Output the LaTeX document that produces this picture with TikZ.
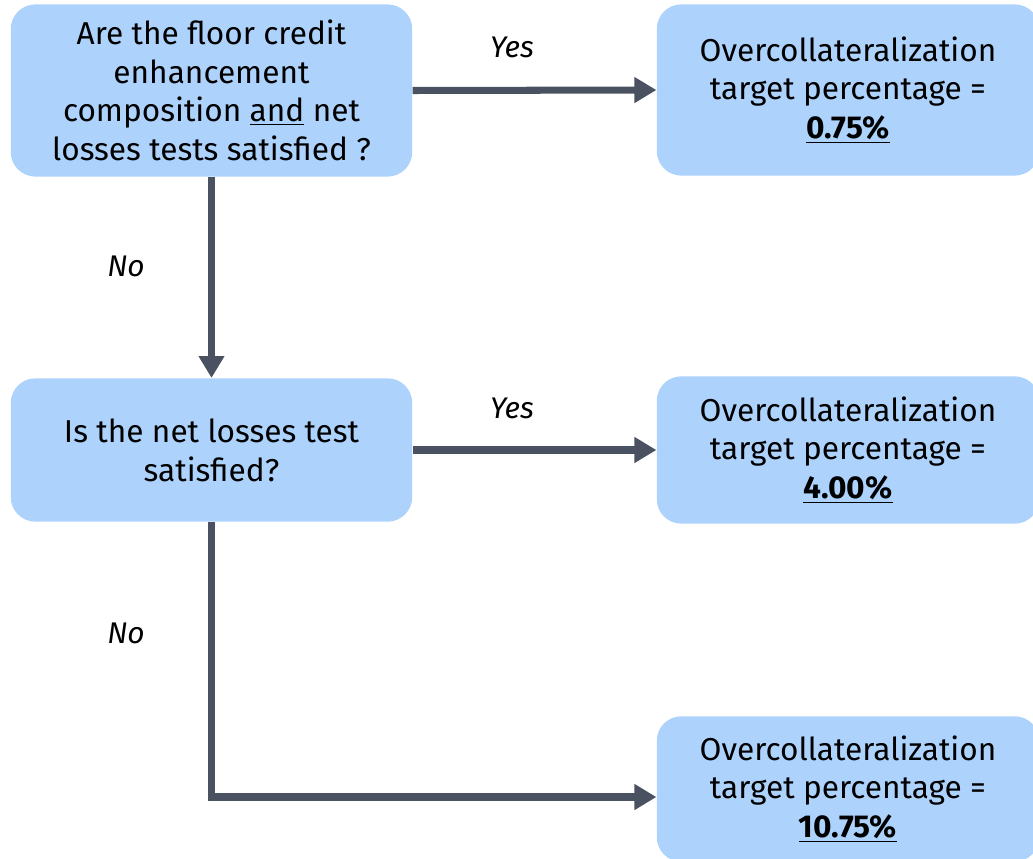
\documentclass[tikz,border=0pt]{standalone}
\usepackage{fontspec}
\setmainfont{Fira Sans}
\usetikzlibrary{arrows.meta}
\definecolor{boxblue}{RGB}{173,211,253}
\definecolor{arrowgrey}{RGB}{74,81,96}
\tikzset{
  qbox/.style={fill=boxblue, rounded corners=14pt, align=center, inner sep=0pt,
    font=\fontsize{18}{22}\selectfont},
  flow/.style={draw=arrowgrey, line width=4pt, -{Triangle[length=12.5pt,width=14pt]}},
  answer/.style={font=\fontsize{17}{20}\selectfont\itshape},
}

\begin{document}
\begin{tikzpicture}[x=0.02cm,y=-0.02cm]
    \useasboundingbox (0,0) rectangle (1033,858);
    % questions
    \node[qbox, minimum width=228.5pt, minimum height=98pt] (floor) at (211.5,90.5)
      {Are the floor credit\\enhancement\\composition \underline{and} net\\losses tests satisfied ?};
    \node[qbox, minimum width=228.5pt, minimum height=81.6pt] (netloss) at (211.5,450)
      {Is the net losses test\\satisfied?};
    % targets
    \node[qbox, minimum width=217.7pt, minimum height=97.5pt] (ocfirst) at (848,90)
      {Overcollateralization\\target percentage =\\\underline{\textbf{0.75\%}}};
    \node[qbox, minimum width=217.7pt, minimum height=83.9pt] (ocsecond) at (848,450)
      {Overcollateralization\\target percentage =\\\underline{\textbf{4.00\%}}};
    \node[qbox, minimum width=217.7pt, minimum height=82.8pt] (octhird) at (848,789)
      {Overcollateralization\\target percentage =\\\underline{\textbf{10.75\%}}};
    % connectors
    \coordinate (bend) at (211.5,797);
    \draw[flow] (floor.east) -- (ocfirst.west);
    \draw[flow] (floor.south) -- (netloss.north);
    \draw[flow] (netloss.east) -- (ocsecond.west);
    \draw[flow] (netloss.south) -- (bend) -- (bend -| octhird.west);
    % answers
    \node[answer] (yesfirst) at (512,47) {Yes};
    \node[answer] (nofirst) at (126,266) {No};
    \node[answer] (yessecond) at (512,408) {Yes};
    \node[answer] (nosecond) at (126,633) {No};
\end{tikzpicture}
\end{document}
